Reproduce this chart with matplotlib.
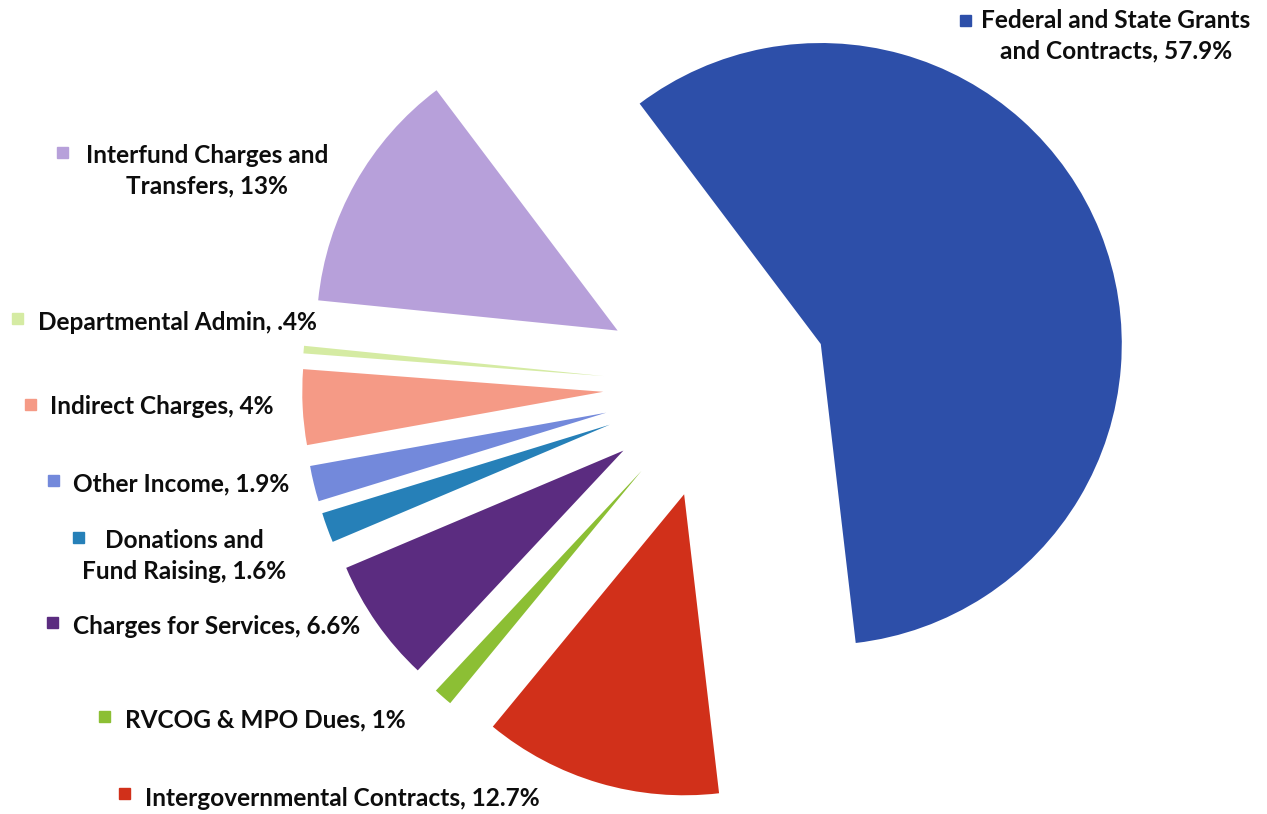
import matplotlib
matplotlib.use("Agg")
import matplotlib.pyplot as plt
from matplotlib.patches import Rectangle

# slices, clockwise from the top-left edge of the big blue one
names = ["Federal and State Grants\nand Contracts, 57.9%",
         "Intergovernmental Contracts, 12.7%",
         "RVCOG & MPO Dues, 1%",
         "Charges for Services, 6.6%",
         "Donations and\nFund Raising, 1.6%",
         "Other Income, 1.9%",
         "Indirect Charges, 4%",
         "Departmental Admin, .4%",
         "Interfund Charges and\nTransfers, 13%"]
shares = [57.9, 12.7, 1.0, 6.6, 1.6, 1.9, 4.0, 0.4, 13.0]
colors = ["#2D4FA9", "#D1301A", "#8CBF34", "#5B2C80", "#2680B8",
          "#7389DB", "#F59A86", "#D5EBA3", "#B7A0DA"]

W, H = 1267, 814
CX, CY, R = 716, 386, 301   # pie centre / radius in pixels

plt.rcParams["font.family"] = ["Lato", "DejaVu Sans"]
fig = plt.figure(figsize=(W/100, H/100), dpi=100)
ax = fig.add_axes([0, 0, 1, 1])
ax.pie(shares, colors=colors, startangle=127, counterclock=False,
       explode=[0.375]*len(shares), radius=1,
       wedgeprops=dict(linewidth=0))
ax.set_xlim(-CX/R, (W-CX)/R)
ax.set_ylim(-(H-CY)/R, CY/R)
ax.set_aspect("equal", adjustable="box")
ax.axis("off")

# label layout (pixels): marker x, marker y, text x, text y, alignment
lab_pos = [(965, 20, 1116, 36, "center"),
           (124, 793, 145, 799, "left"),
           (104, 716, 125, 720, "left"),
           (52, 622, 73, 627, "left"),
           (78, 537, 184, 556, "center"),
           (53, 481, 73, 484, "left"),
           (30, 404, 50, 406, "left"),
           (17, 318, 38, 323, "left"),
           (62, 152, 207, 171, "center")]

for name, col, (mx, my, tx, ty, ha) in zip(names, colors, lab_pos):
    s = 11
    fig.patches.append(Rectangle(((mx - s/2)/W, 1 - (my + s/2)/H), s/W, s/H,
                                 transform=fig.transFigure, color=col))
    fig.text(tx/W, 1 - ty/H, name, ha=ha, va="center", multialignment="center",
             fontsize=17.6, fontweight="bold", color="#0d0d0d", linespacing=1.4)

fig.savefig("out.png", dpi=100, facecolor="white")
